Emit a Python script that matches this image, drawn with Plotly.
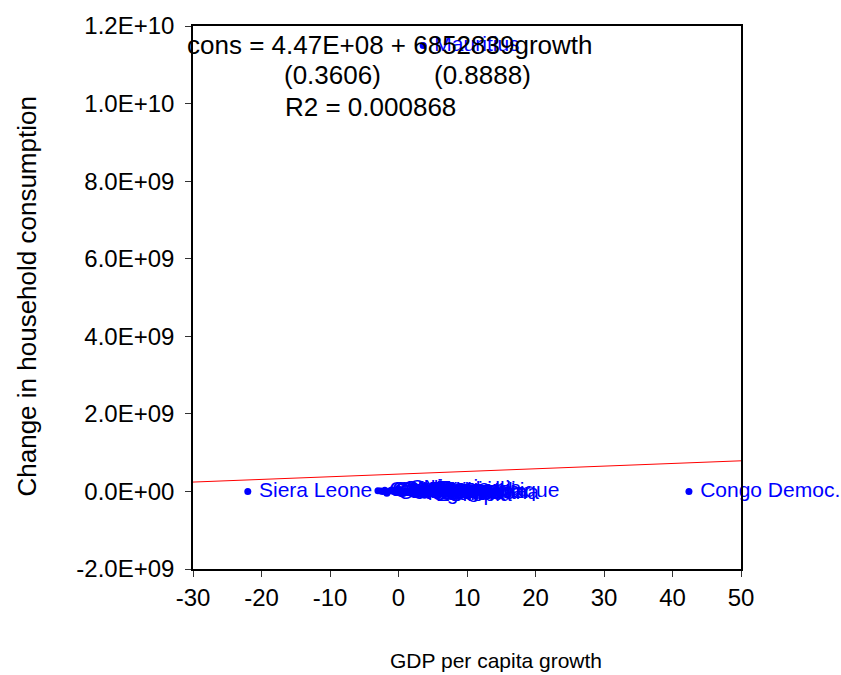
import plotly.graph_objects as go

# ---- data ----
countries = [
    "Siera Leone", "Congo Democ.", "Mauritius",
    "Cameroon", "Chad", "Comoros", "Congo", "Cote d'Ivoire", "Cape Verde",
    "Gabon", "Gambia", "Ghana", "Guinea", "Kenya", "Lesotho", "Madagascar",
    "Malawi", "Mali", "Niger", "Nigeria", "Rwanda", "Senegal", "Togo",
    "Uganda", "Zambia", "Ethiopia", "Tanzania", "Benin", "Burundi",
    "Botswana", "Namibia", "Mozambique",
]
growth = [
    -22.0, 42.4, 3.6,
    -3.0, -2.6, -2.3, -2.0, -1.7, -1.3,
    -1.0, -0.7, -0.4, -0.1, 0.2, 0.5, 0.8,
    1.1, 1.4, 1.7, 2.0, 2.3, 2.6, 2.9,
    3.2, 3.5, 3.8, 4.1, 4.5, 4.9,
    5.4, 5.9, 4.3,
]
consumption = [
    0.0e9, 0.0e9, 1.15e10,
    0.02e9, 0.01e9, 0.0e9, 0.03e9, -0.05e9, 0.01e9,
    0.04e9, 0.0e9, -0.03e9, 0.06e9, 0.05e9, 0.0e9, -0.04e9,
    0.01e9, -0.02e9, 0.02e9, 0.08e9, -0.06e9, 0.03e9, -0.01e9,
    -0.08e9, 0.02e9, -0.10e9, 0.04e9, -0.05e9, 0.01e9,
    -0.07e9, -0.03e9, 0.0e9,
]

# regression: cons = 4.47E+08 + 6852839*growth
intercept = 4.47e8
slope = 6852839.0
fit_x = [-30, 50]
fit_y = [intercept + slope * v for v in fit_x]

y_tickvals = [-2e9, 0, 2e9, 4e9, 6e9, 8e9, 1e10, 1.2e10]
y_ticktext = ["-2.0E+09", "0.0E+00", "2.0E+09", "4.0E+09", "6.0E+09",
              "8.0E+09", "1.0E+10", "1.2E+10"]
x_tickvals = [-30, -20, -10, 0, 10, 20, 30, 40, 50]
x_ticktext = ["-30", "-20", "-10", "0", "10", "20", "30", "40", "50"]

eq_line1 = "cons = 4.47E+08 + 6852839growth"
eq_se1 = "(0.3606)"
eq_se2 = "(0.8888)"
eq_r2 = "R2 = 0.000868"

FONT = "Liberation Sans, Arial, Helvetica, sans-serif"

fig = go.Figure()
fig.add_trace(go.Scatter(
    x=fit_x, y=fit_y, mode="lines",
    line=dict(color="#ff0000", width=1), hoverinfo="skip", showlegend=False,
))
fig.add_trace(go.Scatter(
    x=growth, y=consumption, mode="markers+text",
    text=countries, texttemplate=" %{text}", textposition="middle right",
    textfont=dict(family=FONT, size=21, color="#0000ff"),
    marker=dict(color="#0000ff", size=7),
    cliponaxis=False, showlegend=False,
))

L, R, T, B = 193, 100, 21, 106
W, H = 841, 675
pw, ph = W - L - R, H - T - B


def px(xp):
    return (xp - L) / pw


def py(yp):
    return (H - B - yp) / ph


annots = [
    dict(text=eq_line1, x=px(185), y=py(40), size=26),
    dict(text=eq_se1, x=px(282), y=py(70), size=26),
    dict(text=eq_se2, x=px(432), y=py(70), size=26),
    dict(text=eq_r2, x=px(283), y=py(103), size=26),
]
for a in annots:
    fig.add_annotation(
        text=a["text"], x=a["x"], y=a["y"], xref="paper", yref="paper",
        xanchor="left", yanchor="middle", showarrow=False,
        font=dict(family=FONT, size=a["size"], color="black"),
    )

fig.add_annotation(
    text="GDP per capita growth", x=px(496), y=py(661), xref="paper", yref="paper",
    xanchor="center", yanchor="middle", showarrow=False,
    font=dict(family=FONT, size=21, color="black"),
)
fig.add_annotation(
    text="Change in household consumption", x=px(27), y=py(294),
    xref="paper", yref="paper", textangle=-90,
    xanchor="center", yanchor="middle", showarrow=False,
    font=dict(family=FONT, size=26, color="black"),
)

axis_common = dict(
    showline=True, linecolor="black", linewidth=1.5, mirror=True,
    showgrid=False, zeroline=False, ticks="outside", ticklen=6,
    tickcolor="#333333", tickwidth=1,
    tickfont=dict(family=FONT, size=24, color="black"),
)
fig.update_xaxes(range=[-30, 50], tickvals=x_tickvals, ticktext=x_ticktext,
                 **axis_common)
fig.update_yaxes(range=[-2e9, 1.2e10], tickvals=y_tickvals, ticktext=y_ticktext,
                 ticklabelstandoff=6, **axis_common)

fig.update_layout(
    width=W, height=H,
    margin=dict(l=L, r=R, t=T, b=B),
    paper_bgcolor="white", plot_bgcolor="white",
    font=dict(family=FONT),
)

fig.write_html("out.html")
